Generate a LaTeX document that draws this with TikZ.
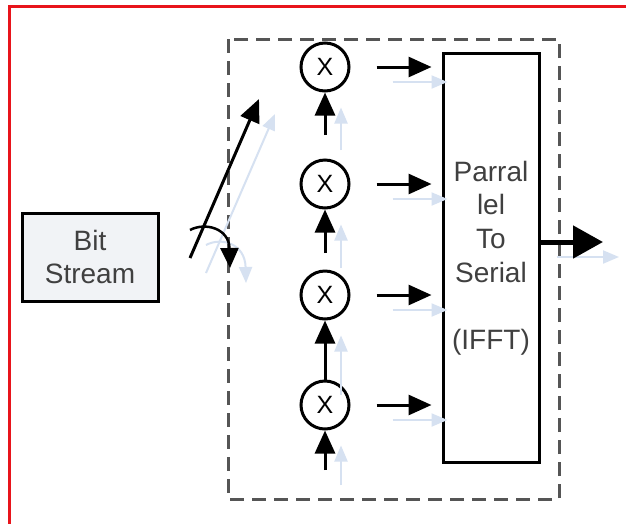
\documentclass[tikz,border=0pt]{standalone}
\usepackage{fontspec}
\setmainfont{Liberation Sans}
\usetikzlibrary{arrows.meta}
\definecolor{txtgray}{HTML}{404040}
\definecolor{dashgray}{HTML}{555555}
\definecolor{shadowblue}{HTML}{D6E1F1}
\definecolor{boxfill}{HTML}{F1F3F6}
\definecolor{frame}{HTML}{E8141B}
\begin{document}
\begin{tikzpicture}[x=1pt,y=-1pt,
  arr/.style={line width=3pt,-{Triangle[length=23pt,width=20pt]}},
  sarr/.style={shadowblue,line width=2pt,-{Triangle[length=16pt,width=13pt]}},
  sh/.style={shift={(16,15)}},
  mult/.style={circle,draw,line width=3pt,minimum size=48pt,inner sep=0pt,font=\fontsize{25}{25}\selectfont},
  lbl/.style={text=txtgray,align=center,font=\fontsize{28}{33.6}\selectfont}]
\useasboundingbox (0,0) rectangle (626,523);
\fill[white] (0,0) rectangle (626,523);
\draw[frame,line width=3pt] (9,530) -- (9,6) -- (630,6);
% dashed frame
\draw[dashgray,line width=3pt,dash pattern=on 14pt off 8pt] (228,39) rectangle (559,499);
% nodes
\node[draw,line width=3pt,fill=boxfill,minimum width=136pt,minimum height=88pt,inner sep=0pt,lbl] (bit) at (90,257) {Bit\\Stream};
\node[mult] (m1) at (325,67) {X};
\node[mult] (m2) at (325,184) {X};
\node[mult] (m3) at (325,295) {X};
\node[mult] (m4) at (325,405) {X};
\node[draw,line width=3pt,minimum width=96pt,minimum height=409pt,inner sep=0pt,lbl] (ps) at (491,258) {Parral\\lel\\To\\Serial\\[33.6pt](IFFT)};
\coordinate (s0) at (190,258);
\coordinate (s1) at (259,99);
\coordinate (c0) at (190,230);
\coordinate (c1) at (230,268);
\coordinate (b1) at (325,135);
\coordinate (b2) at (325,253);
\coordinate (b4) at (325,470);
\coordinate (out) at (603,242);
% shadows
\draw[sarr] ([sh]s0) -- ([sh]s1);
\draw[sarr] ([sh]c0) .. controls ([sh]205,222) and ([sh]229,228) .. ([sh]c1);
\draw[sarr] ([sh]b1) -- ([sh]m1.south);
\draw[sarr] ([sh]b2) -- ([sh]m2.south);
\draw[sarr] ([sh]m4.north) -- ([sh]m3.south);
\draw[sarr] ([sh]b4) -- ([sh]m4.south);
\foreach \m in {m1,m2,m3,m4}{
  \draw[sarr] ([sh,xshift=26pt]\m.east) -- ([sh,xshift=-10pt]ps.west |- \m);
}
\draw[sarr] ([sh]ps.east |- out) -- ([sh]out);
% connectors
\draw[arr] (s0) -- (s1);
\draw[line width=2.5pt,-{Triangle[length=20pt,width=18pt]}] (c0) .. controls (205,222) and (229,228) .. (c1);
\draw[arr] (b1) -- (m1.south);
\draw[arr] (b2) -- (m2.south);
\draw[arr] (m4.north) -- (m3.south);
\draw[arr] (b4) -- (m4.south);
\foreach \m in {m1,m2,m3,m4}{
  \draw[arr] ([xshift=26pt]\m.east) -- ([xshift=-10pt]ps.west |- \m);
}
\draw[line width=5pt,-{Triangle[length=30pt,width=32pt]}] (ps.east |- out) -- (out);
\end{tikzpicture}
\end{document}
